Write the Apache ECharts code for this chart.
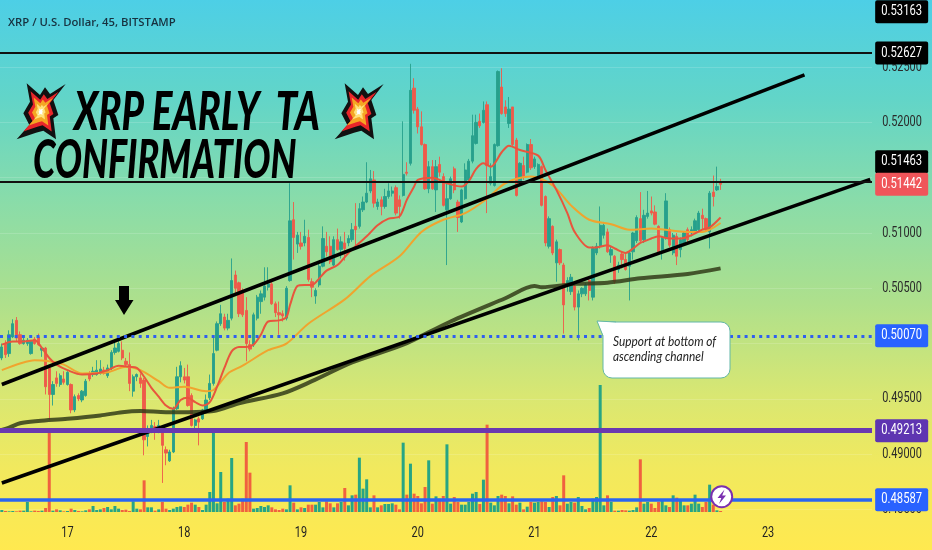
<!DOCTYPE html>
<html><head><meta charset="utf-8"><style>html,body{margin:0;padding:0;background:#fff}#c{width:932px;height:550px}</style>
<script src="https://cdn.jsdelivr.net/npm/echarts@6/dist/echarts.min.js"></script></head><body><div id="c"></div>
<script>
// prices are in units of 0.0001 USD
const opens=[4987,5000,4991,5006,5021,5008,5000,5000,4991,5004,
5006,4994,4996,4978,4954,4969,4963,4968,4963,4963,
4940,4953,4949,4953,4973,4972,4972,4973,4976,4971,
4978,4992,4993,4994,4984,4981,4957,4970,4969,4967,
4916,4922,4925,4923,4923,4904,4894,4902,4941,4970,
4970,4970,4953,4926,4932,4932,4938,4951,4964,4994,
5018,5024,5014,5023,5062,5055,5048,5030,4999,4999,
5023,5038,5042,5051,5054,5036,5028,5027,5023,5057,
5112,5090,5091,5091,5096,5056,5043,5053,5070,5088,
5088,5071,5094,5085,5091,5091,5094,5106,5106,5121,
5128,5138,5148,5124,5130,5124,5133,5136,5141,5130,
5134,5155,5163,5231,5212,5196,5180,5140,5160,5139,
5162,5151,5121,5131,5158,5128,5110,5131,5148,5165,
5181,5201,5200,5216,5145,5143,5179,5232,5214,5199,
5214,5184,5146,5161,5155,5180,5160,5152,5160,5133,
5088,5106,5073,5085,5071,5054,5047,5052,5033,5045,
5045,5057,5042,5082,5088,5098,5101,5080,5079,5067,
5081,5076,5070,5083,5093,5113,5094,5115,5120,5119,
5106,5085,5096,5103,5082,5097,5085,5091,5103,5100,
5101,5103,5116,5113,5101,5137,5139,5146];
const closes=[4997,4990,5008,5018,5005,5000,5003,5003,5002,5000,
4999,4996,4961,4954,4963,4964,4971,4965,4974,4940,
4952,4950,4957,4966,4968,4975,4976,4977,4973,4978,
4992,4996,5000,4987,4981,4964,4970,4972,4964,4913,
4923,4926,4920,4926,4908,4901,4902,4941,4970,4980,
4967,4944,4926,4931,4929,4940,4949,4964,4991,5018,
5027,5014,5021,5057,5050,5027,5026,5000,4995,5026,
5042,5045,5052,5054,5036,5028,5026,5025,5050,5111,
5096,5098,5088,5097,5058,5051,5048,5070,5095,5083,
5074,5094,5085,5092,5086,5095,5103,5103,5122,5128,
5136,5149,5127,5128,5124,5133,5138,5138,5118,5124,
5153,5154,5229,5211,5196,5180,5140,5160,5140,5160,
5155,5125,5131,5149,5139,5114,5139,5157,5165,5188,
5200,5197,5211,5161,5151,5180,5246,5208,5208,5212,
5180,5134,5163,5151,5180,5159,5167,5162,5125,5091,
5113,5082,5092,5073,5035,5057,5060,5033,5045,5050,
5053,5048,5086,5088,5107,5107,5083,5085,5056,5071,
5076,5067,5082,5100,5114,5093,5116,5118,5118,5108,
5083,5095,5129,5089,5098,5079,5094,5100,5094,5103,
5111,5118,5113,5103,5136,5133,5142,5144];
const lows=[4985,4987,4988,5005,5002,4999,4999,4998,4990,4999,
4998,4988,4954,4931,4944,4961,4961,4963,4962,4937,
4938,4948,4947,4952,4966,4970,4971,4972,4972,4969,
4976,4990,4992,4985,4979,4957,4952,4966,4960,4899,
4907,4919,4913,4919,4874,4890,4893,4901,4940,4965,
4964,4943,4925,4923,4908,4931,4937,4949,4962,4993,
5016,5012,5012,5021,5045,5024,5024,4984,4993,4997,
5021,5027,5039,5048,5035,5024,5008,5020,5021,5056,
5076,5082,5085,5088,5056,5042,5036,5051,5069,5079,
5072,5070,5084,5077,5075,5088,5092,5088,5104,5119,
5127,5136,5123,5121,5116,5122,5131,5133,5116,5113,
5133,5152,5161,5208,5190,5179,5139,5136,5139,5119,
5151,5124,5071,5130,5136,5101,5109,5130,5146,5163,
5180,5195,5199,5118,5143,5142,5178,5207,5205,5195,
5178,5133,5145,5148,5154,5157,5158,5151,5124,5088,
5086,5080,5056,5071,5009,5047,5044,5030,5003,5042,
5043,5039,5039,5080,5086,5095,5082,5073,5054,5064,
5068,5066,5039,5076,5091,5091,5091,5113,5116,5107,
5082,5076,5094,5087,5080,5071,5078,5089,5092,5097,
5100,5102,5103,5101,5086,5124,5138,5139];
const highs=[5000,5003,5012,5022,5024,5011,5006,5005,5003,5006,
5009,4997,4997,4979,4966,4975,4973,4975,4975,4964,
4954,4955,4958,4968,4975,4979,4985,4985,4979,4981,
4994,5002,5003,5002,4987,4992,4972,4973,4973,4969,
4926,4931,4929,4931,4925,4907,4904,4943,4979,4984,
4978,4981,4955,4932,4934,4941,4954,4972,5006,5020,
5035,5027,5027,5077,5066,5056,5050,5042,5003,5028,
5044,5048,5069,5069,5056,5038,5038,5030,5052,5145,
5128,5101,5101,5112,5103,5059,5050,5072,5106,5101,
5097,5097,5104,5097,5101,5098,5109,5127,5127,5133,
5164,5157,5156,5131,5133,5140,5145,5142,5143,5134,
5201,5164,5253,5240,5214,5210,5181,5165,5166,5166,
5169,5154,5145,5151,5160,5130,5140,5163,5167,5207,
5207,5208,5219,5219,5163,5181,5247,5249,5220,5223,
5214,5186,5164,5169,5181,5185,5169,5163,5161,5134,
5115,5107,5094,5086,5073,5060,5063,5054,5048,5051,
5055,5059,5088,5091,5124,5110,5104,5088,5080,5074,
5083,5082,5083,5101,5116,5137,5121,5138,5133,5125,
5107,5097,5136,5105,5100,5100,5096,5101,5105,5106,
5113,5120,5122,5114,5138,5152,5160,5149];
const volumes=[6,3,2,3,2,4,4,30,2,4,
3,4,12,250,4,8,5,2,3,10,
6,3,2,5,8,18,6,8,12,15,
8,18,10,6,7,3,32,10,8,95,
14,14,4,8,30,10,6,10,15,17,
15,22,28,22,15,6,22,60,250,26,
120,30,40,162,20,25,40,210,118,10,
12,18,15,20,14,8,6,10,8,80,
28,8,14,12,22,22,22,30,14,32,
26,14,26,30,72,20,50,52,163,70,
98,14,50,14,20,24,24,26,22,8,
208,52,145,55,48,26,75,155,25,47,
40,48,203,25,45,30,22,22,30,55,
60,24,97,262,28,20,48,52,48,26,
47,22,28,8,16,30,28,30,32,30,
15,45,48,20,110,25,30,28,45,18,
8,12,40,45,381,20,50,30,4,4,
6,5,4,6,14,158,25,30,25,12,
30,35,20,15,50,43,35,20,20,25,
52,25,15,30,82,22,5,3];
const maFast=[[0,4999],[3,5002],[6,5002],[9,5003],[11,4996],[13,4987],[15,4981],[18,4976],[22,4972],[26,4973],[29,4976],[32,4980],[35,4979],[37,4978],[39,4970],[41,4960],[43,4952],[45,4944],[47,4941],[49,4949],[51,4951],[53,4947],[55,4944],[57,4947],[59,4961],[61,4978],[63,4993],[65,4997],[67,4997],[69,4999],[71,5008],[73,5020],[76,5021],[78,5024],[79,5035],[81,5052],[83,5053],[85,5053],[87,5059],[89,5066],[92,5071],[95,5082],[100,5097],[103,5107],[106,5113],[109,5115],[111,5130],[113,5142],[114,5148],[118,5150],[122,5145],[126,5142],[128,5147],[130,5158],[132,5163],[134,5160],[137,5173],[139,5179],[142,5175],[147,5170],[149,5157],[152,5139],[155,5118],[157,5101],[161,5087],[163,5087],[166,5089],[168,5086],[171,5082],[173,5086],[175,5091],[178,5095],[180,5097],[183,5095],[186,5095],[189,5098],[192,5103],[194,5105],[197,5114]];
const maMid=[[0,4976],[5,4982],[9,4985],[13,4984],[17,4981],[22,4973],[29,4974],[34,4979],[38,4976],[43,4966],[46,4960],[50,4961],[56,4957],[58,4958],[62,4973],[66,4980],[73,4994],[78,5000],[84,5018],[94,5040],[101,5061],[109,5079],[115,5101],[121,5112],[127,5118],[133,5131],[138,5145],[145,5151],[151,5143],[156,5125],[161,5112],[167,5108],[172,5103],[178,5104],[188,5101],[192,5101],[197,5109]];
const maSlow=[[0,4922],[2,4924],[5,4928],[10,4930],[18,4932],[27,4935],[33,4938],[38,4939],[45,4938],[51,4938],[58,4939],[65,4946],[77,4955],[85,4966],[96,4983],[110,4999],[123,5020],[138,5041],[146,5052],[148,5051],[157,5054],[166,5055],[175,5059],[188,5063],[197,5068]];
const channelUpper=[[0,4963],[220,5243]];
const channelLower=[[0,4874],[238,5148.5]];
const axisTickPrices=[0.49,0.495,0.5,0.505,0.51,0.515,0.52,0.525,0.485];
const dayIndex=[18,50,82,114,146,178,210];
const dayNames=['17','18','19','20','21','22','23'];
const slotCount=239;
const tagPrices=[0.53163,0.52627,0.51463,0.51442,0.5007,0.49213,0.48587];
const tagNudge=[18,0,-20,0,0,0,0];
const tagColors=['#000','#000','#000','#f0555a','#2962ff','#5e35b1','#2962ff'];

const TEAL='#27a08c',RED='#ee5a4a';
const font='Roboto,sans-serif';
const price=v=>v/10000;
const cats=Array.from({length:slotCount},(_,i)=>String(i));
const candles=opens.map((o,i)=>[price(o),price(closes[i]),price(lows[i]),price(highs[i])]);
const volData=volumes.map((v,i)=>({value:v,itemStyle:{color:closes[i]>=opens[i]?'#27a584':'#f0613f'}}));
const pairs=a=>a.map(p=>[p[0],price(p[1])]);
const hline=(v,style)=>({yAxis:v,lineStyle:style,label:{show:false}});

function burst(dx){
  const pts=[[80,250],[120,285],[135,262],[150,282],[197,252],[160,300],[175,345],[160,355],[168,418],[130,392],[108,398],[50,418],[88,375],[70,340],[90,305]];
  const cx=122,cy=335;
  const layers=[[1,'#111'],[0.72,'#e8262a'],[0.5,'#f5a623'],[0.28,'#ffe27a'],[0.12,'#fff']];
  return layers.map(([s,c])=>({type:'polygon',z:30,silent:true,
    shape:{points:pts.map(p=>[dx+(cx+(p[0]-cx)*s)/3,(cy+(p[1]-cy)*s)/3])},style:{fill:c}}));
}

const option={
  animation:false,
  backgroundColor:{type:'linear',x:0,y:0,x2:0,y2:1,colorStops:[
    {offset:0,color:'#4dcfe6'},{offset:0.18,color:'#62d5c8'},{offset:0.36,color:'#88dcaa'},{offset:0.55,color:'#aee08c'},
    {offset:0.72,color:'#d9e772'},{offset:0.85,color:'#f1e95e'},{offset:1,color:'#ffe94f'}]},
  title:{text:'XRP / U.S. Dollar, 45, BITSTAMP',left:8,top:17,padding:0,textStyle:{fontFamily:'"Open Sans",sans-serif',fontSize:11.3,fontWeight:600,color:'#17313f'}},
  grid:[{left:-2,width:874,top:0,height:516},{left:-2,width:874,top:300,height:212}],
  xAxis:[
    {type:'category',gridIndex:0,data:cats,show:false},
    {type:'category',gridIndex:1,data:cats,show:false}
  ],
  yAxis:[
    {type:'value',gridIndex:0,position:'right',min:0.48441,max:0.53107,axisLine:{show:false},
     axisTick:{show:false,customValues:axisTickPrices},
     splitLine:{show:true,lineStyle:{color:'rgba(255,255,255,0.15)',width:1}},
     axisLabel:{show:false,customValues:axisTickPrices}},
    {type:'value',gridIndex:1,min:0,max:636,show:false}
  ],
  series:[
    {type:'bar',xAxisIndex:1,yAxisIndex:1,data:volData,barWidth:3,z:2,silent:true},
    {type:'candlestick',xAxisIndex:0,yAxisIndex:0,data:candles,barWidth:2.8,z:3,silent:true,
     itemStyle:{color:TEAL,color0:RED,borderColor:TEAL,borderColor0:RED,borderWidth:0.9}},
    {type:'line',data:pairs(maSlow),symbol:'none',smooth:0.3,z:4,silent:true,lineStyle:{color:'rgba(50,60,25,0.85)',width:4}},
    {type:'line',data:pairs(maMid),symbol:'none',smooth:0.3,z:4,silent:true,lineStyle:{color:'#f0a42e',width:2}},
    {type:'line',data:pairs(maFast),symbol:'none',smooth:0.3,z:4,silent:true,lineStyle:{color:'#e8553d',width:2}},
    {type:'line',data:pairs(channelUpper),symbol:'none',z:5,silent:true,lineStyle:{color:'#000',width:3.6}},
    {type:'line',data:pairs(channelLower),symbol:'none',z:5,silent:true,lineStyle:{color:'#000',width:3.6}},
    {type:'line',data:[],z:6,silent:true,markLine:{silent:true,symbol:'none',animation:false,precision:5,z:6,data:[
       hline(tagPrices[1],{color:'#111',width:2,type:'solid'}),
       hline(tagPrices[2],{color:'#111',width:2,type:'solid'}),
       hline(tagPrices[4],{color:'#2f5ff0',width:3,type:[3,4.3]}),
       hline(tagPrices[5],{color:'#6a38b0',width:5,type:'solid'}),
       hline(tagPrices[6],{color:'#2a66f0',width:3.5,type:'solid'})
    ]}},
    // right-hand price-axis tick labels
    {type:'custom',xAxisIndex:0,yAxisIndex:0,z:7,silent:true,encode:{x:0,y:1},
     data:axisTickPrices.map(v=>[slotCount-1,v]),
     renderItem:(p,api)=>{const c=api.coord([api.value(0),api.value(1)]);
       return {type:'text',x:c[0]+12,y:c[1],scaleX:0.78,style:{text:api.value(1).toFixed(5),fill:'#2a2a2a',font:'14px '+font,align:'left',verticalAlign:'middle'}};}},
    // price tags
    {type:'custom',xAxisIndex:0,yAxisIndex:0,z:8,silent:true,encode:{x:0,y:1},
     data:tagPrices.map(v=>[slotCount-1,v]),
     renderItem:(p,api)=>{const c=api.coord([api.value(0),api.value(1)]);const y=c[1]+tagNudge[p.dataIndex];
       return {type:'group',children:[
         {type:'rect',shape:{x:c[0]+5,y:y-11.5,width:53,height:23,r:2},style:{fill:tagColors[p.dataIndex]}},
         {type:'text',x:c[0]+31.5,y:y,scaleX:0.8,style:{text:api.value(1).toFixed(5),fill:'#fff',font:'14px '+font,align:'center',verticalAlign:'middle'}}
       ]};}},
    // day labels along the bottom
    {type:'custom',xAxisIndex:1,yAxisIndex:1,z:7,silent:true,encode:{x:0,y:1},
     data:dayIndex.map(i=>[i,0]),
     renderItem:(p,api)=>{const c=api.coord([api.value(0),0]);
       return {type:'text',x:c[0],y:c[1]+21,scaleX:0.78,style:{text:dayNames[p.dataIndex],fill:'#222',font:'14px '+font,align:'center',verticalAlign:'middle'}};}}
  ],
  graphic:[
    ...burst(0),...burst(318),
    {type:'text',z:30,silent:true,x:74,y:86,scaleX:0.72,style:{text:'XRP EARLY  TA',font:'italic 900 53px Lato',fill:'#000'}},
    {type:'text',z:30,silent:true,x:33,y:134,scaleX:0.68,style:{text:'CONFIRMATION',font:'italic 900 53px Lato',fill:'#000'}},
    {type:'polygon',z:30,silent:true,shape:{points:[[119,286],[129,286],[129,300],[133.5,300],[124,315],[115,300],[119,300]]},style:{fill:'#000'}},
    {type:'rect',z:30,silent:true,shape:{x:603,y:322,width:127,height:56,r:9},style:{fill:'#fff',stroke:'#63b7a8',lineWidth:1}},
    {type:'polygon',z:31,silent:true,shape:{points:[[597,321],[616,322.5],[603.5,336]]},style:{fill:'#fff'}},
    {type:'polyline',z:31,silent:true,shape:{points:[[616,322],[597,321],[603,336]]},style:{stroke:'#63b7a8',lineWidth:1,fill:'none'}},
    {type:'text',z:32,silent:true,x:613,y:342,scaleX:0.88,style:{text:'Support at bottom of',font:'italic 13.5px Lato',fill:'#222',verticalAlign:'middle'}},
    {type:'text',z:32,silent:true,x:613,y:357,scaleX:0.88,style:{text:'ascending channel',font:'italic 13.5px Lato',fill:'#222',verticalAlign:'middle'}},
    {type:'circle',z:30,silent:true,shape:{cx:721.7,cy:496.7,r:10.5},style:{fill:'#fff',stroke:'#7b2fb0',lineWidth:2}},
    {type:'polygon',z:31,silent:true,shape:{points:[[724.5,489.5],[717.5,498],[721.3,498],[719,504],[726,495.5],[722.2,495.5]]},style:{fill:'#7b2fb0'}}
  ]
};
echarts.init(document.getElementById('c'),null,{renderer:'canvas'}).setOption(option);
</script></body></html>
